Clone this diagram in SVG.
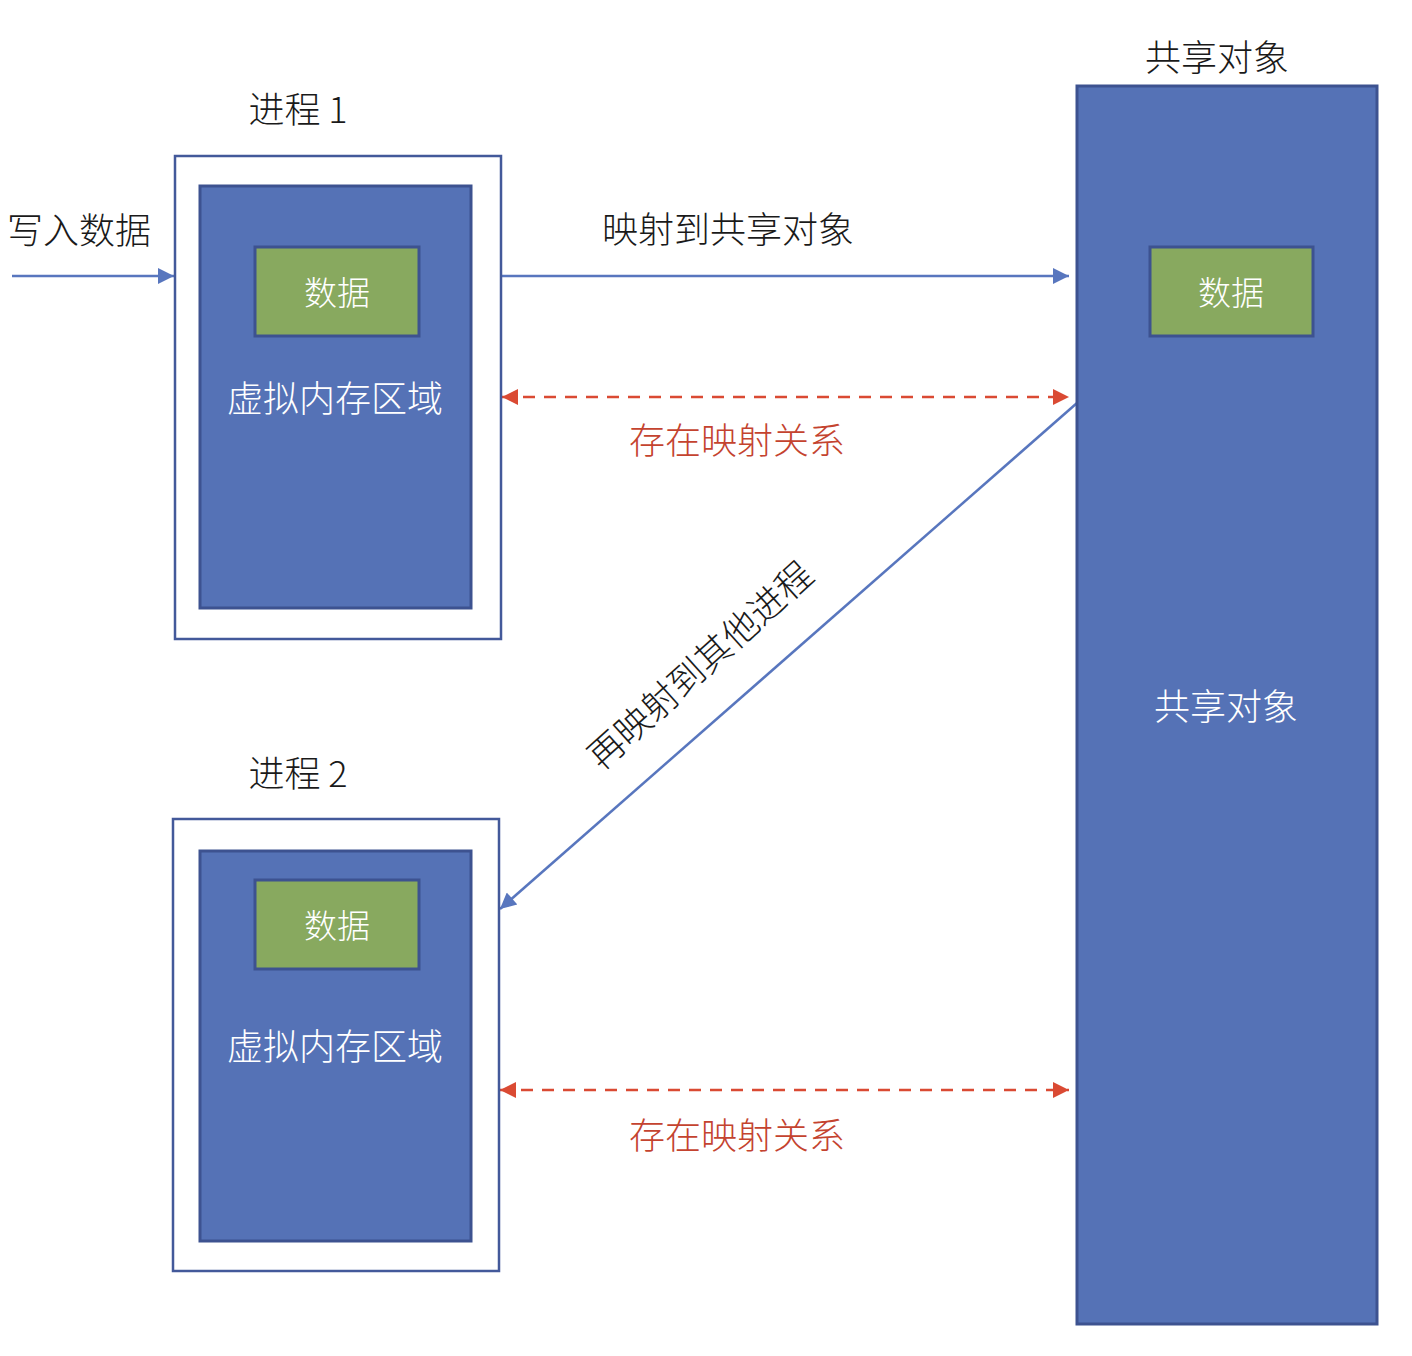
<svg xmlns="http://www.w3.org/2000/svg" width="1412" height="1356" viewBox="0 0 1412 1356">
<style>
text{font-family:"Noto Sans CJK SC","Liberation Sans",sans-serif;font-size:36px;font-weight:300;text-anchor:middle;dominant-baseline:central}
.dark{fill:#1a1a1a}
.white{fill:#ffffff}
.small{font-size:33px}
.red{fill:#c4432f}
.outer{fill:#ffffff;stroke:#43599a;stroke-width:2.5}
.inner{fill:#5572b6;stroke:#3d5290;stroke-width:3}
.data{fill:#88a95f;stroke:#3d5290;stroke-width:3}
.conn{fill:none;stroke:#5876be;stroke-width:2.5}
.dash{fill:none;stroke:#da4a33;stroke-width:2.5;stroke-dasharray:12 9}
</style>
<defs>
<marker id="ar" viewBox="0 0 10 10" refX="10" refY="5" markerWidth="18" markerHeight="16" markerUnits="userSpaceOnUse" orient="auto-start-reverse">
<path d="M0,0 L10,5 L0,10 z" fill="#da4a33"/>
</marker>
<marker id="bb" viewBox="0 0 10 10" refX="10" refY="5" markerWidth="18" markerHeight="16" markerUnits="userSpaceOnUse" orient="auto">
<path d="M0,0 L10,5 L0,10 z" fill="#5876be"/>
</marker>
</defs>
<g id="connectors">
<line class="conn" x1="12" y1="276" x2="174" y2="276" marker-end="url(#bb)"/>
<line class="conn" x1="502" y1="276" x2="1069" y2="276" marker-end="url(#bb)"/>
<line class="dash" x1="502" y1="397" x2="1069" y2="397" marker-start="url(#ar)" marker-end="url(#ar)"/>
<line class="dash" x1="500" y1="1090" x2="1069" y2="1090" marker-start="url(#ar)" marker-end="url(#ar)"/>
<line class="conn" x1="1077" y1="403" x2="500" y2="909" marker-end="url(#bb)"/>
<text class="dark" x="79" y="228">写入数据</text>
<text class="dark" x="728" y="227">映射到共享对象</text>
<text class="red" x="737" y="438">存在映射关系</text>
<text class="red" x="737" y="1133">存在映射关系</text>
<text class="dark" transform="translate(698,663) rotate(-42)">再映射到其他进程</text>
</g>
<g id="process1">
<text class="dark" x="298" y="107">进程 1</text>
<rect class="outer" x="175" y="156" width="326" height="483"/>
<rect class="inner" x="200" y="186" width="271" height="422"/>
<rect class="data" x="255" y="247" width="164" height="89"/>
<text class="white small" x="337" y="291">数据</text>
<text class="white" x="335" y="396">虚拟内存区域</text>
</g>
<g id="process2">
<text class="dark" x="298" y="771">进程 2</text>
<rect class="outer" x="173" y="819" width="326" height="452"/>
<rect class="inner" x="200" y="851" width="271" height="390"/>
<rect class="data" x="255" y="880" width="164" height="89"/>
<text class="white small" x="337" y="924">数据</text>
<text class="white" x="335" y="1044">虚拟内存区域</text>
</g>
<g id="shared">
<text class="dark" x="1217" y="55">共享对象</text>
<rect class="inner" x="1077" y="86" width="300" height="1238"/>
<rect class="data" x="1150" y="247" width="163" height="89"/>
<text class="white small" x="1231" y="291">数据</text>
<text class="white" x="1226" y="704">共享对象</text>
</g>
</svg>
